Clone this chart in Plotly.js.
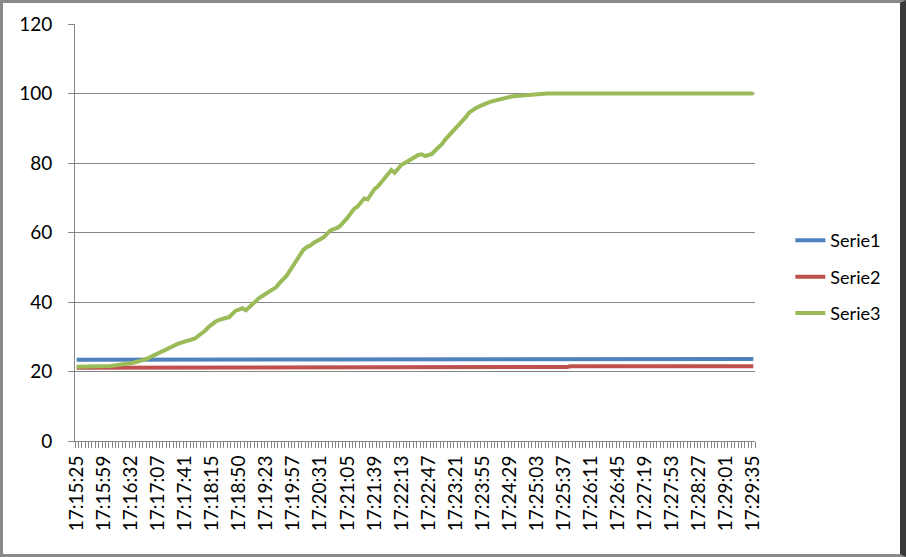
<!DOCTYPE html>
<html>
<head>
<meta charset="utf-8">
<script src="https://cdn.plot.ly/plotly-3.0.1.min.js"></script>
<style>
  html, body { margin: 0; padding: 0; background: #fff; }
  #wrap { position: relative; width: 906px; height: 557px; overflow: hidden; }
  #chart { position: absolute; left: 0; top: 0; width: 906px; height: 557px; }
  #frame { position: absolute; left: 0; top: 0; width: 906px; height: 557px; box-sizing: border-box;
           border-top: 3px solid #8a8a8a; border-left: 3px solid #8a8a8a;
           border-bottom: 3px solid #8a8a8a; border-right: 6px solid #3a3a3a; pointer-events: none; }
</style>
</head>
<body>
<div id="wrap">
  <div id="chart"></div>
  <div id="frame"></div>
</div>
<script>
// Tick labels (one every 8 samples)
const tickLabels = ["17:15:25","17:15:59","17:16:32","17:17:07","17:17:41","17:18:15","17:18:50",
  "17:19:23","17:19:57","17:20:31","17:21:05","17:21:39","17:22:13","17:22:47","17:23:21",
  "17:23:55","17:24:29","17:25:03","17:25:37","17:26:11","17:26:45","17:27:19","17:27:53",
  "17:28:27","17:29:01","17:29:35"];
const samplesPerLabel = 8;

const serie1 = [
 23.4,23.4,23.4,23.4,23.4,23.4,23.4,23.4,23.4,23.4,23.4,23.4,23.4,23.4,23.4,23.4,23.4,23.4,23.4,23.4,
 23.4,23.4,23.4,23.4,23.4,23.4,23.4,23.4,23.4,23.4,23.4,23.4,23.4,23.4,23.4,23.4,23.4,23.4,23.4,23.4,
 23.4,23.4,23.4,23.4,23.4,23.4,23.4,23.4,23.4,23.4,23.4,23.4,23.4,23.4,23.4,23.4,23.4,23.4,23.4,23.4,
 23.4,23.4,23.4,23.4,23.4,23.4,23.4,23.4,23.4,23.4,23.4,23.4,23.4,23.4,23.4,23.4,23.4,23.4,23.4,23.4,
 23.4,23.4,23.4,23.4,23.4,23.4,23.4,23.4,23.4,23.4,23.4,23.4,23.4,23.4,23.4,23.4,23.4,23.4,23.4,23.4,
 23.4,23.4,23.4,23.4,23.4,23.4,23.4,23.4,23.4,23.4,23.4,23.4,23.4,23.4,23.4,23.4,23.4,23.4,23.4,23.4,
 23.4,23.4,23.4,23.4,23.4,23.4,23.4,23.4,23.4,23.4,23.4,23.4,23.4,23.4,23.4,23.4,23.4,23.4,23.4,23.4,
 23.4,23.4,23.4,23.4,23.4,23.4,23.4,23.4,23.4,23.4,23.4,23.4,23.4,23.4,23.4,23.4,23.4,23.4,23.4,23.4,
 23.4,23.4,23.4,23.4,23.4,23.4,23.4,23.4,23.4,23.4,23.4,23.4,23.4,23.4,23.4,23.4,23.4,23.4,23.4,23.4,
 23.4,23.4,23.4,23.4,23.4,23.4,23.4,23.4,23.5,23.4,23.4,23.4,23.4,23.5,23.5,23.6,23.6,23.6,23.6,23.6,
 23.6];

const serie2 = [
 21.1,21.1,21.1,21.1,21.1,21.1,21.1,21.1,21.1,21.1,21.1,21.1,21.1,21.1,21.1,21.1,21.1,21.1,21.1,21.1,
 21.1,21.1,21.1,21.1,21.1,21.1,21.1,21.1,21.1,21.1,21.1,21.1,21.1,21.1,21.1,21.1,21.1,21.1,21.1,21.1,
 21.1,21.1,21.1,21.1,21.1,21.1,21.1,21.1,21.1,21.1,21.1,21.1,21.1,21.1,21.1,21.1,21.1,21.1,21.1,21.1,
 21.1,21.1,21.3,21.1,21.1,21.1,21.1,21.1,21.1,21.1,21.1,21.1,21.1,21.1,21.3,21.1,21.3,21.1,21.3,21.1,
 21.3,21.3,21.3,21.3,21.3,21.3,21.3,21.3,21.3,21.3,21.3,21.3,21.3,21.3,21.3,21.3,21.3,21.3,21.3,21.3,
 21.3,21.3,21.3,21.3,21.3,21.3,21.3,21.3,21.3,21.3,21.3,21.3,21.3,21.3,21.3,21.3,21.3,21.3,21.3,21.3,
 21.3,21.3,21.3,21.3,21.3,21.3,21.3,21.3,21.3,21.3,21.3,21.3,21.3,21.3,21.3,21.3,21.3,21.3,21.3,21.3,
 21.3,21.3,21.3,21.3,21.3,21.3,21.5,21.5,21.5,21.5,21.5,21.5,21.5,21.5,21.5,21.5,21.5,21.5,21.5,21.5,
 21.5,21.5,21.5,21.5,21.5,21.5,21.5,21.5,21.5,21.5,21.5,21.5,21.5,21.5,21.5,21.5,21.5,21.5,21.5,21.5,
 21.5,21.5,21.5,21.5,21.5,21.5,21.5,21.5,21.5,21.5,21.5,21.5,21.5,21.5,21.5,21.5,21.5,21.5,21.5,21.5,
 21.5];

const serie3 = [
 21.4,21.4,21.4,21.4,21.4,21.5,21.5,21.5,21.5,21.6,21.6,
 21.7,21.8,21.9,22.0,22.2,22.4,22.6,22.8,23.1,23.4,
 23.8,24.3,24.8,25.2,25.8,26.3,26.6,27.0,27.6,28.0,
 28.3,28.6,28.8,28.9,29.5,30.3,31.0,31.8,32.8,33.6,
 34.3,34.8,35.2,35.4,35.6,36.5,37.5,37.8,38.2,37.6,
 38.5,39.6,40.6,41.2,41.8,42.5,43.0,43.6,44.3,45.5,
 46.5,47.5,49.0,50.5,52.5,54.0,55.0,55.8,56.2,57.0,
 57.6,58.0,58.6,59.6,60.6,61.0,61.3,62.0,63.0,64.2,
 65.5,66.8,67.5,68.7,69.8,69.5,71.2,72.5,73.2,74.5,
 75.8,77.0,78.0,77.2,78.2,79.5,80.0,80.6,81.2,81.8,
 82.3,82.5,82.0,82.3,82.6,83.6,84.5,85.5,86.8,87.8,
 89.0,90.0,91.0,92.0,93.2,94.5,95.3,95.8,96.3,96.8,
 97.2,97.5,97.8,98.1,98.4,98.6,98.8,99.0,99.2,99.3,
 99.4,99.5,99.6,99.7,99.8,99.8,99.9,100,100,100,
 100,100,100,100,100,100,100,100,100,100,
 100,100,100,100,100,100,100,100,100,100,
 100,100,100,100,100,100,100,100,100,100,
 100,100,100,100,100,100,100,100,100,100,
 100,100,100,100,100,100,100,100,100,100,
 100,100,100,100,100,100,100,100,100,100];

const idx = serie3.map((_, i) => i);
const tickVals = tickLabels.map((_, i) => i * samplesPerLabel);

const FONT = "Lato, 'Open Sans', sans-serif";
const mk = (y, name, color) => ({
  x: idx, y: y, name: name, type: 'scatter', mode: 'lines',
  line: { color: color, width: 4 }, legendgroup: name
});

const data = [
  mk(serie1, 'Serie1', '#4F81BD'),
  mk(serie2, 'Serie2', '#C0504D'),
  mk(serie3, 'Serie3', '#9BBB59')
];

const layout = {
  width: 906, height: 557,
  margin: { l: 75, r: 151, t: 24, b: 116 },
  paper_bgcolor: '#ffffff', plot_bgcolor: '#ffffff',
  font: { family: FONT, size: 18, color: '#000' },
  showlegend: true,
  legend: {
    x: 1.052, xanchor: 'left', y: 0.393, yanchor: 'middle',
    font: { family: FONT, size: 18, color: '#000' },
    tracegroupgap: 10, bgcolor: 'rgba(0,0,0,0)'
  },
  xaxis: {
    range: [-0.5, idx.length - 0.5],
    tickmode: 'array', tickvals: tickVals, ticktext: tickLabels,
    tickangle: -90, ticks: '', showgrid: false, zeroline: false,
    showline: true, linecolor: '#868686', linewidth: 1,
    tickfont: { family: FONT, size: 19, color: '#000' },
    ticklabelstandoff: 6,
    minor: { tickmode: 'linear', tick0: -0.5, dtick: 1, ticks: 'outside', ticklen: 6,
             tickcolor: '#868686', tickwidth: 1, showgrid: false }
  },
  yaxis: {
    range: [0, 120], dtick: 20, tick0: 0,
    ticks: 'outside', ticklen: 6, tickcolor: '#868686',
    showgrid: true, gridcolor: '#868686', gridwidth: 1,
    showline: true, linecolor: '#868686', linewidth: 1, zeroline: false,
    tickfont: { family: FONT, size: 19, color: '#000' },
    ticklabelstandoff: 12
  }
};

Plotly.newPlot('chart', data, layout, { displayModeBar: false, staticPlot: true });
</script>
</body>
</html>
